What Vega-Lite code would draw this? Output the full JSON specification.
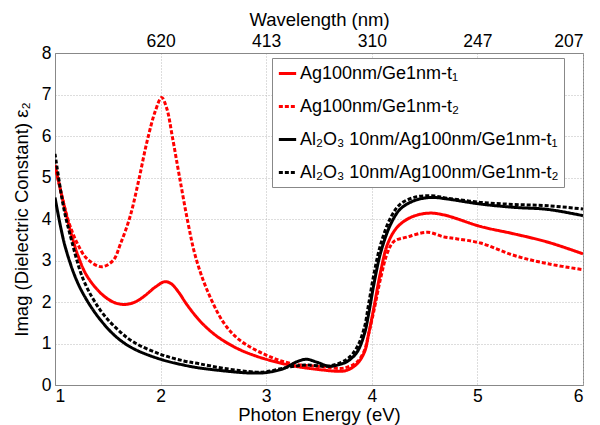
{
  "$schema": "https://vega.github.io/schema/vega-lite/v6.json",
  "width": 528,
  "height": 332,
  "autosize": {"type": "none"},
  "padding": {"left": 55, "top": 53, "right": 17, "bottom": 40},
  "config": {
    "font": "Liberation Sans",
    "view": {"stroke": "#888", "strokeWidth": 1},
    "axis": {
      "labelFont": "Liberation Sans",
      "titleFont": "Liberation Sans",
      "labelFontSize": 17.5,
      "titleFontSize": 18.5,
      "titleFontWeight": "normal",
      "labelColor": "#000",
      "titleColor": "#000",
      "domainColor": "#888",
      "ticks": false,
      "gridColor": "#bbb",
      "gridDash": [1, 2],
      "gridWidth": 1
    }
  },
  "data": {"values": [
    {"series": "Ag100nm/Ge1nm-t₁", "E": 1.00, "eps": 5.30},
    {"series": "Ag100nm/Ge1nm-t₁", "E": 1.07, "eps": 4.50},
    {"series": "Ag100nm/Ge1nm-t₁", "E": 1.14, "eps": 3.77},
    {"series": "Ag100nm/Ge1nm-t₁", "E": 1.22, "eps": 3.10},
    {"series": "Ag100nm/Ge1nm-t₁", "E": 1.30, "eps": 2.64},
    {"series": "Ag100nm/Ge1nm-t₁", "E": 1.43, "eps": 2.22},
    {"series": "Ag100nm/Ge1nm-t₁", "E": 1.55, "eps": 2.00},
    {"series": "Ag100nm/Ge1nm-t₁", "E": 1.65, "eps": 1.94},
    {"series": "Ag100nm/Ge1nm-t₁", "E": 1.75, "eps": 1.99},
    {"series": "Ag100nm/Ge1nm-t₁", "E": 1.84, "eps": 2.13},
    {"series": "Ag100nm/Ge1nm-t₁", "E": 1.95, "eps": 2.36},
    {"series": "Ag100nm/Ge1nm-t₁", "E": 2.04, "eps": 2.49},
    {"series": "Ag100nm/Ge1nm-t₁", "E": 2.10, "eps": 2.44},
    {"series": "Ag100nm/Ge1nm-t₁", "E": 2.17, "eps": 2.24},
    {"series": "Ag100nm/Ge1nm-t₁", "E": 2.24, "eps": 1.97},
    {"series": "Ag100nm/Ge1nm-t₁", "E": 2.32, "eps": 1.70},
    {"series": "Ag100nm/Ge1nm-t₁", "E": 2.40, "eps": 1.47},
    {"series": "Ag100nm/Ge1nm-t₁", "E": 2.50, "eps": 1.24},
    {"series": "Ag100nm/Ge1nm-t₁", "E": 2.60, "eps": 1.06},
    {"series": "Ag100nm/Ge1nm-t₁", "E": 2.75, "eps": 0.85},
    {"series": "Ag100nm/Ge1nm-t₁", "E": 2.90, "eps": 0.70},
    {"series": "Ag100nm/Ge1nm-t₁", "E": 3.00, "eps": 0.62},
    {"series": "Ag100nm/Ge1nm-t₁", "E": 3.15, "eps": 0.52},
    {"series": "Ag100nm/Ge1nm-t₁", "E": 3.30, "eps": 0.44},
    {"series": "Ag100nm/Ge1nm-t₁", "E": 3.54, "eps": 0.36},
    {"series": "Ag100nm/Ge1nm-t₁", "E": 3.70, "eps": 0.33},
    {"series": "Ag100nm/Ge1nm-t₁", "E": 3.77, "eps": 0.36},
    {"series": "Ag100nm/Ge1nm-t₁", "E": 3.86, "eps": 0.51},
    {"series": "Ag100nm/Ge1nm-t₁", "E": 3.93, "eps": 0.79},
    {"series": "Ag100nm/Ge1nm-t₁", "E": 3.97, "eps": 1.23},
    {"series": "Ag100nm/Ge1nm-t₁", "E": 4.02, "eps": 1.87},
    {"series": "Ag100nm/Ge1nm-t₁", "E": 4.085, "eps": 2.75},
    {"series": "Ag100nm/Ge1nm-t₁", "E": 4.15, "eps": 3.40},
    {"series": "Ag100nm/Ge1nm-t₁", "E": 4.24, "eps": 3.80},
    {"series": "Ag100nm/Ge1nm-t₁", "E": 4.37, "eps": 4.04},
    {"series": "Ag100nm/Ge1nm-t₁", "E": 4.53, "eps": 4.14},
    {"series": "Ag100nm/Ge1nm-t₁", "E": 4.68, "eps": 4.10},
    {"series": "Ag100nm/Ge1nm-t₁", "E": 5.03, "eps": 3.82},
    {"series": "Ag100nm/Ge1nm-t₁", "E": 5.35, "eps": 3.64},
    {"series": "Ag100nm/Ge1nm-t₁", "E": 5.67, "eps": 3.44},
    {"series": "Ag100nm/Ge1nm-t₁", "E": 6.00, "eps": 3.16},

    {"series": "Ag100nm/Ge1nm-t₂", "E": 1.00, "eps": 5.30},
    {"series": "Ag100nm/Ge1nm-t₂", "E": 1.07, "eps": 4.50},
    {"series": "Ag100nm/Ge1nm-t₂", "E": 1.14, "eps": 3.85},
    {"series": "Ag100nm/Ge1nm-t₂", "E": 1.21, "eps": 3.42},
    {"series": "Ag100nm/Ge1nm-t₂", "E": 1.30, "eps": 3.05},
    {"series": "Ag100nm/Ge1nm-t₂", "E": 1.44, "eps": 2.85},
    {"series": "Ag100nm/Ge1nm-t₂", "E": 1.55, "eps": 3.00},
    {"series": "Ag100nm/Ge1nm-t₂", "E": 1.62, "eps": 3.40},
    {"series": "Ag100nm/Ge1nm-t₂", "E": 1.71, "eps": 4.05},
    {"series": "Ag100nm/Ge1nm-t₂", "E": 1.79, "eps": 4.90},
    {"series": "Ag100nm/Ge1nm-t₂", "E": 1.87, "eps": 5.85},
    {"series": "Ag100nm/Ge1nm-t₂", "E": 1.95, "eps": 6.60},
    {"series": "Ag100nm/Ge1nm-t₂", "E": 2.01, "eps": 6.93},
    {"series": "Ag100nm/Ge1nm-t₂", "E": 2.06, "eps": 6.65},
    {"series": "Ag100nm/Ge1nm-t₂", "E": 2.11, "eps": 6.00},
    {"series": "Ag100nm/Ge1nm-t₂", "E": 2.18, "eps": 5.00},
    {"series": "Ag100nm/Ge1nm-t₂", "E": 2.26, "eps": 3.90},
    {"series": "Ag100nm/Ge1nm-t₂", "E": 2.33, "eps": 3.10},
    {"series": "Ag100nm/Ge1nm-t₂", "E": 2.44, "eps": 2.29},
    {"series": "Ag100nm/Ge1nm-t₂", "E": 2.60, "eps": 1.49},
    {"series": "Ag100nm/Ge1nm-t₂", "E": 2.75, "eps": 1.08},
    {"series": "Ag100nm/Ge1nm-t₂", "E": 3.00, "eps": 0.72},
    {"series": "Ag100nm/Ge1nm-t₂", "E": 3.23, "eps": 0.52},
    {"series": "Ag100nm/Ge1nm-t₂", "E": 3.54, "eps": 0.44},
    {"series": "Ag100nm/Ge1nm-t₂", "E": 3.70, "eps": 0.40},
    {"series": "Ag100nm/Ge1nm-t₂", "E": 3.77, "eps": 0.43},
    {"series": "Ag100nm/Ge1nm-t₂", "E": 3.86, "eps": 0.55},
    {"series": "Ag100nm/Ge1nm-t₂", "E": 3.93, "eps": 0.83},
    {"series": "Ag100nm/Ge1nm-t₂", "E": 3.97, "eps": 1.23},
    {"series": "Ag100nm/Ge1nm-t₂", "E": 4.02, "eps": 1.79},
    {"series": "Ag100nm/Ge1nm-t₂", "E": 4.085, "eps": 2.59},
    {"series": "Ag100nm/Ge1nm-t₂", "E": 4.15, "eps": 3.20},
    {"series": "Ag100nm/Ge1nm-t₂", "E": 4.21, "eps": 3.46},
    {"series": "Ag100nm/Ge1nm-t₂", "E": 4.34, "eps": 3.57},
    {"series": "Ag100nm/Ge1nm-t₂", "E": 4.53, "eps": 3.68},
    {"series": "Ag100nm/Ge1nm-t₂", "E": 4.68, "eps": 3.57},
    {"series": "Ag100nm/Ge1nm-t₂", "E": 4.81, "eps": 3.52},
    {"series": "Ag100nm/Ge1nm-t₂", "E": 5.03, "eps": 3.42},
    {"series": "Ag100nm/Ge1nm-t₂", "E": 5.35, "eps": 3.12},
    {"series": "Ag100nm/Ge1nm-t₂", "E": 5.67, "eps": 2.92},
    {"series": "Ag100nm/Ge1nm-t₂", "E": 6.00, "eps": 2.78},

    {"series": "Al₂O₃ 10nm/Ag100nm/Ge1nm-t₁", "E": 1.00, "eps": 4.52},
    {"series": "Al₂O₃ 10nm/Ag100nm/Ge1nm-t₁", "E": 1.05, "eps": 3.85},
    {"series": "Al₂O₃ 10nm/Ag100nm/Ge1nm-t₁", "E": 1.10, "eps": 3.30},
    {"series": "Al₂O₃ 10nm/Ag100nm/Ge1nm-t₁", "E": 1.20, "eps": 2.55},
    {"series": "Al₂O₃ 10nm/Ag100nm/Ge1nm-t₁", "E": 1.30, "eps": 2.05},
    {"series": "Al₂O₃ 10nm/Ag100nm/Ge1nm-t₁", "E": 1.43, "eps": 1.57},
    {"series": "Al₂O₃ 10nm/Ag100nm/Ge1nm-t₁", "E": 1.58, "eps": 1.16},
    {"series": "Al₂O₃ 10nm/Ag100nm/Ge1nm-t₁", "E": 1.74, "eps": 0.88},
    {"series": "Al₂O₃ 10nm/Ag100nm/Ge1nm-t₁", "E": 2.00, "eps": 0.62},
    {"series": "Al₂O₃ 10nm/Ag100nm/Ge1nm-t₁", "E": 2.22, "eps": 0.48},
    {"series": "Al₂O₃ 10nm/Ag100nm/Ge1nm-t₁", "E": 2.37, "eps": 0.41},
    {"series": "Al₂O₃ 10nm/Ag100nm/Ge1nm-t₁", "E": 2.60, "eps": 0.34},
    {"series": "Al₂O₃ 10nm/Ag100nm/Ge1nm-t₁", "E": 2.84, "eps": 0.29},
    {"series": "Al₂O₃ 10nm/Ag100nm/Ge1nm-t₁", "E": 3.00, "eps": 0.30},
    {"series": "Al₂O₃ 10nm/Ag100nm/Ge1nm-t₁", "E": 3.17, "eps": 0.40},
    {"series": "Al₂O₃ 10nm/Ag100nm/Ge1nm-t₁", "E": 3.28, "eps": 0.55},
    {"series": "Al₂O₃ 10nm/Ag100nm/Ge1nm-t₁", "E": 3.38, "eps": 0.62},
    {"series": "Al₂O₃ 10nm/Ag100nm/Ge1nm-t₁", "E": 3.48, "eps": 0.55},
    {"series": "Al₂O₃ 10nm/Ag100nm/Ge1nm-t₁", "E": 3.60, "eps": 0.45},
    {"series": "Al₂O₃ 10nm/Ag100nm/Ge1nm-t₁", "E": 3.70, "eps": 0.50},
    {"series": "Al₂O₃ 10nm/Ag100nm/Ge1nm-t₁", "E": 3.77, "eps": 0.57},
    {"series": "Al₂O₃ 10nm/Ag100nm/Ge1nm-t₁", "E": 3.86, "eps": 0.79},
    {"series": "Al₂O₃ 10nm/Ag100nm/Ge1nm-t₁", "E": 3.93, "eps": 1.23},
    {"series": "Al₂O₃ 10nm/Ag100nm/Ge1nm-t₁", "E": 3.97, "eps": 1.71},
    {"series": "Al₂O₃ 10nm/Ag100nm/Ge1nm-t₁", "E": 4.02, "eps": 2.43},
    {"series": "Al₂O₃ 10nm/Ag100nm/Ge1nm-t₁", "E": 4.085, "eps": 3.20},
    {"series": "Al₂O₃ 10nm/Ag100nm/Ge1nm-t₁", "E": 4.18, "eps": 3.88},
    {"series": "Al₂O₃ 10nm/Ag100nm/Ge1nm-t₁", "E": 4.27, "eps": 4.24},
    {"series": "Al₂O₃ 10nm/Ag100nm/Ge1nm-t₁", "E": 4.40, "eps": 4.44},
    {"series": "Al₂O₃ 10nm/Ag100nm/Ge1nm-t₁", "E": 4.56, "eps": 4.52},
    {"series": "Al₂O₃ 10nm/Ag100nm/Ge1nm-t₁", "E": 4.72, "eps": 4.48},
    {"series": "Al₂O₃ 10nm/Ag100nm/Ge1nm-t₁", "E": 5.03, "eps": 4.36},
    {"series": "Al₂O₃ 10nm/Ag100nm/Ge1nm-t₁", "E": 5.35, "eps": 4.28},
    {"series": "Al₂O₃ 10nm/Ag100nm/Ge1nm-t₁", "E": 5.67, "eps": 4.23},
    {"series": "Al₂O₃ 10nm/Ag100nm/Ge1nm-t₁", "E": 6.00, "eps": 4.08},

    {"series": "Al₂O₃ 10nm/Ag100nm/Ge1nm-t₂", "E": 1.00, "eps": 5.57},
    {"series": "Al₂O₃ 10nm/Ag100nm/Ge1nm-t₂", "E": 1.08, "eps": 4.30},
    {"series": "Al₂O₃ 10nm/Ag100nm/Ge1nm-t₂", "E": 1.14, "eps": 3.65},
    {"series": "Al₂O₃ 10nm/Ag100nm/Ge1nm-t₂", "E": 1.27, "eps": 2.53},
    {"series": "Al₂O₃ 10nm/Ag100nm/Ge1nm-t₂", "E": 1.43, "eps": 1.80},
    {"series": "Al₂O₃ 10nm/Ag100nm/Ge1nm-t₂", "E": 1.58, "eps": 1.37},
    {"series": "Al₂O₃ 10nm/Ag100nm/Ge1nm-t₂", "E": 1.74, "eps": 1.04},
    {"series": "Al₂O₃ 10nm/Ag100nm/Ge1nm-t₂", "E": 2.00, "eps": 0.74},
    {"series": "Al₂O₃ 10nm/Ag100nm/Ge1nm-t₂", "E": 2.22, "eps": 0.58},
    {"series": "Al₂O₃ 10nm/Ag100nm/Ge1nm-t₂", "E": 2.37, "eps": 0.51},
    {"series": "Al₂O₃ 10nm/Ag100nm/Ge1nm-t₂", "E": 2.60, "eps": 0.40},
    {"series": "Al₂O₃ 10nm/Ag100nm/Ge1nm-t₂", "E": 2.90, "eps": 0.31},
    {"series": "Al₂O₃ 10nm/Ag100nm/Ge1nm-t₂", "E": 3.00, "eps": 0.32},
    {"series": "Al₂O₃ 10nm/Ag100nm/Ge1nm-t₂", "E": 3.23, "eps": 0.44},
    {"series": "Al₂O₃ 10nm/Ag100nm/Ge1nm-t₂", "E": 3.38, "eps": 0.48},
    {"series": "Al₂O₃ 10nm/Ag100nm/Ge1nm-t₂", "E": 3.60, "eps": 0.46},
    {"series": "Al₂O₃ 10nm/Ag100nm/Ge1nm-t₂", "E": 3.77, "eps": 0.63},
    {"series": "Al₂O₃ 10nm/Ag100nm/Ge1nm-t₂", "E": 3.86, "eps": 0.91},
    {"series": "Al₂O₃ 10nm/Ag100nm/Ge1nm-t₂", "E": 3.93, "eps": 1.39},
    {"series": "Al₂O₃ 10nm/Ag100nm/Ge1nm-t₂", "E": 3.97, "eps": 1.95},
    {"series": "Al₂O₃ 10nm/Ag100nm/Ge1nm-t₂", "E": 4.02, "eps": 2.67},
    {"series": "Al₂O₃ 10nm/Ag100nm/Ge1nm-t₂", "E": 4.085, "eps": 3.40},
    {"series": "Al₂O₃ 10nm/Ag100nm/Ge1nm-t₂", "E": 4.18, "eps": 4.04},
    {"series": "Al₂O₃ 10nm/Ag100nm/Ge1nm-t₂", "E": 4.27, "eps": 4.36},
    {"series": "Al₂O₃ 10nm/Ag100nm/Ge1nm-t₂", "E": 4.40, "eps": 4.52},
    {"series": "Al₂O₃ 10nm/Ag100nm/Ge1nm-t₂", "E": 4.56, "eps": 4.56},
    {"series": "Al₂O₃ 10nm/Ag100nm/Ge1nm-t₂", "E": 4.72, "eps": 4.50},
    {"series": "Al₂O₃ 10nm/Ag100nm/Ge1nm-t₂", "E": 5.03, "eps": 4.40},
    {"series": "Al₂O₃ 10nm/Ag100nm/Ge1nm-t₂", "E": 5.35, "eps": 4.35},
    {"series": "Al₂O₃ 10nm/Ag100nm/Ge1nm-t₂", "E": 5.67, "eps": 4.32},
    {"series": "Al₂O₃ 10nm/Ag100nm/Ge1nm-t₂", "E": 6.00, "eps": 4.24}
  ]},
  "layer": [
    {
      "mark": {"type": "line", "strokeWidth": 3, "interpolate": "catmull-rom", "clip": true},
      "encoding": {
        "x": {
          "field": "E", "type": "quantitative",
          "scale": {"domain": [1, 6], "nice": false, "zero": false},
          "axis": {"orient": "bottom", "title": "Photon Energy (eV)", "values": [1, 2, 3, 4, 5, 6], "grid": true, "labelPadding": 2, "titlePadding": 1}
        },
        "y": {
          "field": "eps", "type": "quantitative",
          "scale": {"domain": [0, 8], "nice": false},
          "axis": {"title": "Imag (Dielectric Constant)  ε₂", "values": [0, 1, 2, 3, 4, 5, 6, 7, 8], "grid": true, "labelPadding": 4, "titlePadding": 10}
        },
        "color": {
          "field": "series", "type": "nominal",
          "scale": {
            "domain": ["Ag100nm/Ge1nm-t₁", "Ag100nm/Ge1nm-t₂", "Al₂O₃ 10nm/Ag100nm/Ge1nm-t₁", "Al₂O₃ 10nm/Ag100nm/Ge1nm-t₂"],
            "range": ["#ff0000", "#ff0000", "#000000", "#000000"]
          },
          "legend": {
            "orient": "none", "legendX": 217, "legendY": 5, "title": null,
            "symbolType": "stroke", "symbolStrokeWidth": 3, "symbolSize": 300,
            "labelFontSize": 18, "labelFont": "Liberation Sans", "labelColor": "#000", "labelLimit": 400, "labelOffset": 2,
            "fillColor": "white", "strokeColor": "#888", "padding": 5, "rowPadding": 13
          }
        },
        "strokeDash": {
          "field": "series", "type": "nominal",
          "scale": {
            "domain": ["Ag100nm/Ge1nm-t₁", "Ag100nm/Ge1nm-t₂", "Al₂O₃ 10nm/Ag100nm/Ge1nm-t₁", "Al₂O₃ 10nm/Ag100nm/Ge1nm-t₂"],
            "range": [[1, 0], [4, 2], [1, 0], [4, 2]]
          },
          "legend": {
            "orient": "none", "legendX": 217, "legendY": 5, "title": null,
            "symbolType": "stroke", "symbolStrokeWidth": 3, "symbolSize": 300,
            "labelFontSize": 18, "labelFont": "Liberation Sans", "labelColor": "#000", "labelLimit": 400, "labelOffset": 2,
            "fillColor": "white", "strokeColor": "#888", "padding": 5, "rowPadding": 13
          }
        }
      }
    },
    {
      "mark": {"type": "line", "opacity": 0},
      "encoding": {
        "x": {
          "field": "E", "type": "quantitative",
          "scale": {"domain": [1, 6], "nice": false, "zero": false},
          "axis": {
            "orient": "top", "title": "Wavelength (nm)", "values": [2, 3, 4, 5, 6], "grid": false, "labelPadding": 3, "titlePadding": 3,
            "labelExpr": "datum.value == 2 ? '620' : datum.value == 3 ? '413' : datum.value == 4 ? '310' : datum.value == 5 ? '247' : '207'"
          }
        },
        "y": {
          "field": "eps", "type": "quantitative",
          "scale": {"domain": [0, 8], "nice": false},
          "axis": {"title": "Imag (Dielectric Constant)  ε₂", "values": [0, 1, 2, 3, 4, 5, 6, 7, 8], "grid": true, "labelPadding": 4, "titlePadding": 10}
        },
        "detail": {"field": "series", "type": "nominal"}
      }
    }
  ],
  "resolve": {"scale": {"x": "independent"}}
}
